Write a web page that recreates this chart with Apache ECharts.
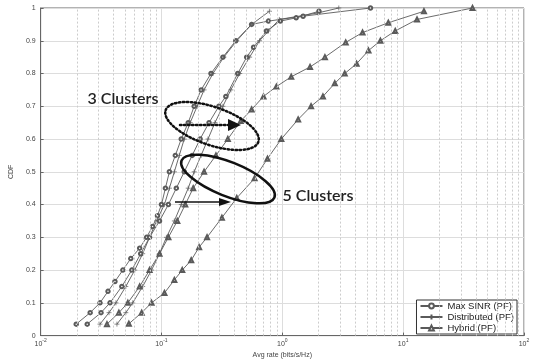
<!DOCTYPE html>
<html><head><meta charset="utf-8">
<script src="https://cdn.jsdelivr.net/npm/echarts@6/dist/echarts.min.js"></script>
<style>html,body{margin:0;padding:0;background:#fff}#c{width:533px;height:364px}</style>
</head><body><div id="c"></div>
<script>
// Legend categories
const legendNames = ['Max SINR (PF)', 'Distributed (PF)', 'Hybrid (PF)'];
// x-axis range (log scale decades)
const xMin = 0.01, xMax = 100;
const yTicks = [0,0.1,0.2,0.3,0.4,0.5,0.6,0.7,0.8,0.9,1];

// Max SINR (PF), group 1
const rateA = [0.0197,0.0257,0.0310,0.0361,0.0412,0.0479,0.0557,0.0660,0.0753,0.0844,0.0927,0.1,0.1078,0.1163,0.1302,0.1458,0.1665,0.1865,0.2128,0.2569,0.3223,0.4119,0.5571,0.7677,1.486,5.365];
const cdfA  = [0.035,0.07,0.1,0.135,0.165,0.2,0.235,0.267,0.3,0.333,0.366,0.4,0.45,0.5,0.55,0.6,0.65,0.7,0.75,0.8,0.85,0.9,0.95,0.96,0.975,1.0];
// Distributed (PF), group 1
const rateB = [0.0310,0.0368,0.0420,0.0507,0.0601,0.0699,0.0797,0.0910,0.1058,0.1163,0.1278,0.1404,0.1543,0.1729,0.1973,0.2252,0.2668,0.3284,0.4198,0.5571,0.7823];
const cdfB  = [0.035,0.07,0.1,0.15,0.2,0.25,0.3,0.35,0.4,0.45,0.5,0.55,0.6,0.65,0.7,0.75,0.8,0.85,0.9,0.95,0.99];
// Max SINR (PF), group 2
const rateC = [0.0243,0.0316,0.0375,0.0470,0.0568,0.0673,0.0797,0.0963,0.1141,0.1327,0.1543,0.1796,0.2088,0.2475,0.2988,0.3410,0.4277,0.507,0.5785,0.7394,0.963,1.302,2.011];
const cdfC  = [0.035,0.07,0.1,0.15,0.2,0.25,0.3,0.35,0.4,0.45,0.5,0.55,0.6,0.65,0.7,0.73,0.8,0.85,0.88,0.93,0.96,0.97,0.99];
// Distributed (PF), group 2
const rateD = [0.0428,0.0507,0.0578,0.0699,0.0828,0.0963,0.1099,0.1278,0.1458,0.1665,0.1865,0.2128,0.2428,0.2771,0.3223,0.3749,0.4442,0.5365,0.6479,0.7677,0.945,1.973,2.933];
const cdfD  = [0.035,0.07,0.1,0.15,0.2,0.25,0.3,0.35,0.4,0.45,0.5,0.55,0.6,0.65,0.7,0.75,0.8,0.85,0.9,0.93,0.965,0.985,1.0];
// Hybrid (PF), group 1
const rateE = [0.0354,0.0444,0.0527,0.0660,0.0797,0.0963,0.1141,0.1352,0.1573,0.1830,0.2252,0.2823,0.3541,0.4527,0.5571,0.6987,0.893,1.185,1.696,2.252,3.346,4.612,7.534,14.86];
const cdfE  = [0.035,0.07,0.1,0.15,0.2,0.25,0.3,0.35,0.4,0.45,0.5,0.55,0.6,0.655,0.69,0.73,0.76,0.79,0.82,0.85,0.895,0.925,0.955,0.99];
// Hybrid (PF), group 2
const rateF = [0.0537,0.0686,0.0828,0.1058,0.1278,0.1486,0.1762,0.2049,0.2383,0.3162,0.4198,0.5895,0.7534,0.981,1.352,1.729,2.168,2.719,3.284,4.119,5.165,6.479,8.60,13.02,37.48];
const cdfF  = [0.036,0.07,0.1,0.13,0.17,0.2,0.23,0.27,0.3,0.36,0.42,0.48,0.54,0.6,0.66,0.7,0.73,0.77,0.8,0.83,0.87,0.9,0.93,0.965,1.0];

const zip = (xs, ys) => xs.map((x, i) => [x, ys[i]]);
const PLUS = 'path://M0,5L10,5M5,0L5,10';
const LC = '#5a5a5a';

// minor log gridlines (2..9 x 10^k)
const minorLines = [];
for (let k = -2; k <= 1; k++) for (let m = 2; m <= 9; m++) minorLines.push({xAxis: m * Math.pow(10, k)});

function mk(name, xs, ys, symbol, size) {
  return {
    name, type: 'line', data: zip(xs, ys), symbol, symbolSize: size, z: 3,
    showSymbol: true,
    lineStyle: {color: LC, width: 0.9},
    itemStyle: {color: LC, borderColor: LC, borderWidth: 0.7}
  };
}

const chart = echarts.init(document.getElementById('c'), null, {renderer: 'canvas'});
chart.setOption({
  animation: false,
  backgroundColor: '#fff',
  textStyle: {fontFamily: 'Liberation Sans'},
  grid: {left: 35, right: 9, top: 8, bottom: 23, show: true, borderColor: '#666', borderWidth: 1},
  legend: {
    data: legendNames, orient: 'vertical', right: 16, bottom: 30,
    itemWidth: 22, itemHeight: 6, itemGap: 1, padding: [1, 3, 1, 3],
    borderColor: '#333', borderWidth: 1, backgroundColor: '#fff', borderRadius: 0,
    textStyle: {fontSize: 9.5, color: '#222', fontFamily: 'Liberation Sans'}
  },
  xAxis: {
    type: 'log', logBase: 10, min: xMin, max: xMax,
    name: 'Avg rate (bits/s/Hz)', nameLocation: 'middle', nameGap: 12,
    nameTextStyle: {fontSize: 7, color: '#444'},
    axisLine: {lineStyle: {color: '#666'}},
    axisTick: {inside: true, length: 3, lineStyle: {color: '#666'}},
    axisLabel: {
      color: '#444', margin: 3,
      formatter: v => '{b|10}{s|' + Math.round(Math.log10(v)) + '}',
      rich: {b: {fontSize: 7, color: '#444', lineHeight: 10}, s: {fontSize: 5, color: '#444', verticalAlign: 'top', lineHeight: 10, padding: [0, 0, 3, 0]}}
    },
    splitLine: {show: true, lineStyle: {color: '#ddd', width: 1}}
  },
  yAxis: {
    type: 'value', min: yTicks[0], max: yTicks[yTicks.length - 1], interval: 0.1,
    name: 'CDF', nameLocation: 'middle', nameGap: 21, nameRotate: 90,
    nameTextStyle: {fontSize: 7, color: '#444'},
    axisLine: {show: true, lineStyle: {color: '#666'}},
    axisTick: {show: true, inside: true, length: 3, lineStyle: {color: '#666'}},
    axisLabel: {fontSize: 7, color: '#444', margin: 5},
    splitLine: {show: true, lineStyle: {color: '#ddd', width: 1}}
  },
  series: [
    {type: 'line', name: 'minor', data: [], z: 1, silent: true,
     markLine: {silent: true, symbol: 'none', label: {show: false}, animation: false,
       lineStyle: {color: '#ccc', type: [2, 2], width: 1}, data: minorLines}},
    mk(legendNames[0], rateA, cdfA, 'emptyCircle', 3.5),
    mk(legendNames[1], rateB, cdfB, PLUS, 5),
    mk(legendNames[0], rateC, cdfC, 'emptyCircle', 3.5),
    mk(legendNames[1], rateD, cdfD, PLUS, 5),
    mk(legendNames[2], rateE, cdfE, 'emptyTriangle', 4),
    mk(legendNames[2], rateF, cdfF, 'emptyTriangle', 4)
  ],
  graphic: [
    {type: 'ellipse', x: 212, y: 126, rotation: -0.33, shape: {cx: 0, cy: 0, rx: 49, ry: 19}, z: 10,
     style: {fill: 'none', stroke: '#111', lineWidth: 2.5, lineDash: [1.5, 2.5], lineCap: 'round'}},
    {type: 'line', shape: {x1: 180, y1: 125, x2: 230, y2: 125}, z: 10,
     style: {stroke: '#111', lineWidth: 2.5, lineDash: [1.5, 2.5], lineCap: 'round'}},
    {type: 'polygon', shape: {points: [[228, 119], [241, 125], [228, 131]]}, z: 10, style: {fill: '#111'}},
    {type: 'ellipse', x: 228, y: 179, rotation: -0.38, shape: {cx: 0, cy: 0, rx: 50, ry: 17}, z: 10,
     style: {fill: 'none', stroke: '#111', lineWidth: 2.5}},
    {type: 'line', shape: {x1: 175, y1: 202, x2: 222, y2: 202}, z: 10, style: {stroke: '#111', lineWidth: 1.5}},
    {type: 'polygon', shape: {points: [[219, 198], [231, 202], [219, 206]]}, z: 10, style: {fill: '#111'}},
    {type: 'text', x: 123, y: 99, z: 10, style: {text: '3 Clusters', fontSize: 16, fontWeight: 600, fontFamily: 'Lato', fill: '#222', align: 'center', verticalAlign: 'middle'}},
    {type: 'text', x: 318, y: 196, z: 10, style: {text: '5 Clusters', fontSize: 16, fontWeight: 600, fontFamily: 'Lato', fill: '#222', align: 'center', verticalAlign: 'middle'}}
  ]
});
</script></body></html>
